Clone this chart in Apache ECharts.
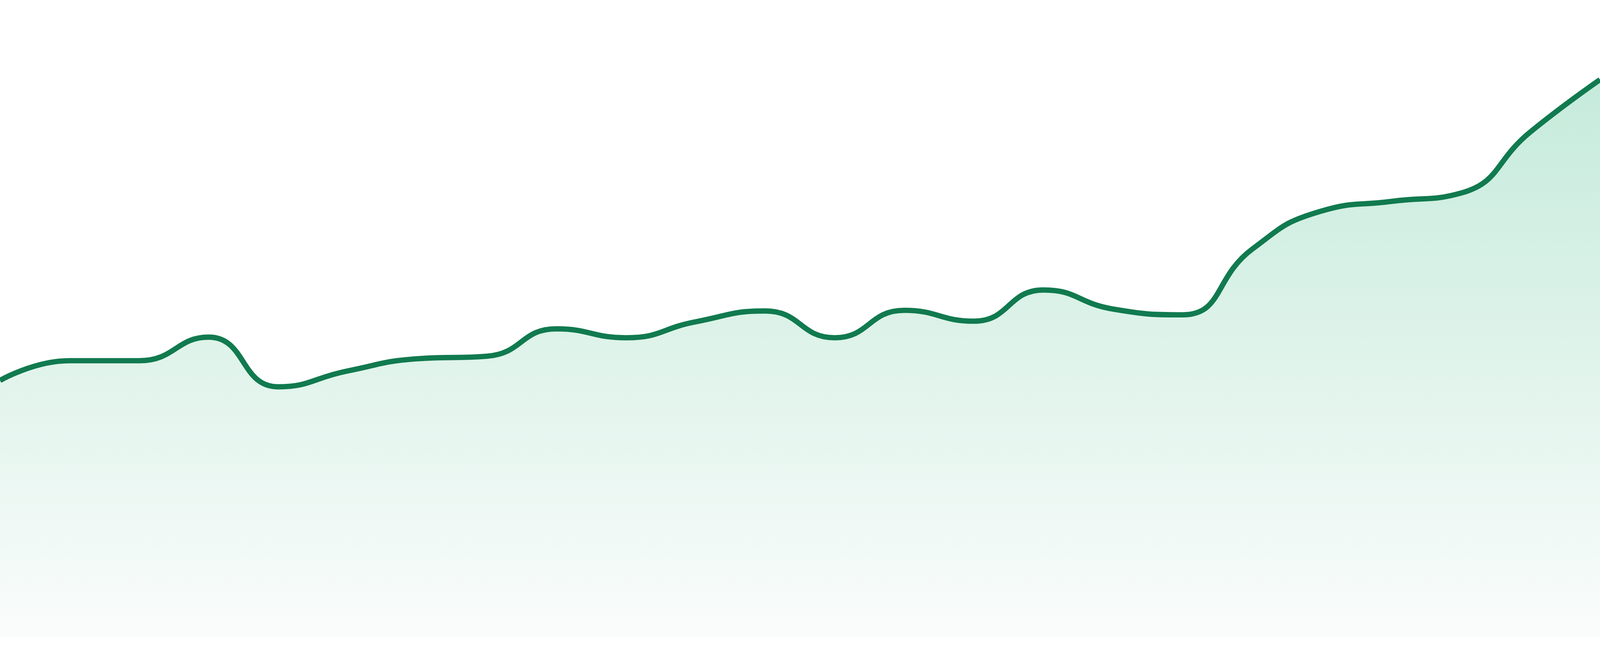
<!DOCTYPE html>
<html>
<head>
<meta charset="utf-8">
<script src="https://cdn.jsdelivr.net/npm/echarts@6/dist/echarts.min.js"></script>
<style>
html,body{margin:0;padding:0;background:#ffffff;width:100%;height:100%;overflow:hidden;}
#chart{position:fixed;left:0;top:0;width:100vw;height:100vh;}
</style>
</head>
<body>
<div id="chart"></div>
<script>
const categories = ['1','2','3','4','5','6','7','8','9','10','11','12','13','14','15','16','17','18','19','20','21','22','23','24'];
const values = [40.3, 43.4, 43.4, 47.1, 39.3, 41.8, 43.7, 44.1, 48.4, 47.0, 49.5, 51.2, 47.0, 51.3, 49.6, 54.5, 51.5, 50.6, 60.9, 66.9, 68.4, 69.7, 79.3, 87.5];

const el = document.getElementById('chart');
const chart = echarts.init(el, null, {renderer: 'canvas'});
const W = el.clientWidth || window.innerWidth;
const H = el.clientHeight || window.innerHeight;
const lw = Math.max(1, W * 16 / 4800);
chart.setOption({
  animation: false,
  backgroundColor: '#ffffff',
  grid: {left: 0, right: 0, top: 0, bottom: H * 48 / 1680},
  xAxis: {type: 'category', data: categories, boundaryGap: false, show: false},
  yAxis: {type: 'value', min: 0, max: 100, show: false},
  series: [{
    type: 'line',
    data: values,
    smooth: true,
    symbol: 'none',
    lineStyle: {color: '#117a4f', width: lw},
    itemStyle: {color: '#117a4f'},
    areaStyle: {
      color: new echarts.graphic.LinearGradient(0, 0, 0, 1, [
        {offset: 0, color: '#ace2cb'},
        {offset: 1, color: '#f8fbfa'}
      ])
    }
  }]
});
window.addEventListener('resize', () => chart.resize());
</script>
</body>
</html>
